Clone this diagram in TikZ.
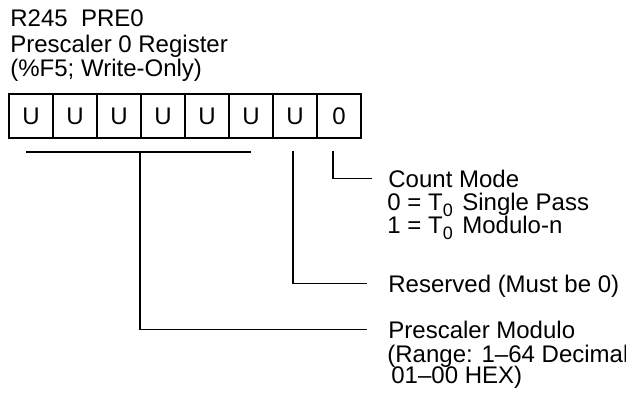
\documentclass[tikz,border=0pt]{standalone}
\usepackage{fontspec}
\setmainfont{Liberation Sans}
\newcommand{\tsub}[1]{\raisebox{-0.55ex}{\fontsize{9}{9}\selectfont #1}}
\begin{document}
\begin{tikzpicture}[x=0.5pt,y=-0.5pt,
  cell/.style={draw,line width=0.9pt,minimum size=22pt,inner sep=0pt,font=\fontsize{12}{13}\selectfont},
  lbl/.style={anchor=base west,inner sep=0pt,text height=8.6pt,text depth=0pt,font=\fontsize{12}{13}\selectfont},
  conn/.style={line width=0.6pt}]
\useasboundingbox (0,0) rectangle (626,397);
% register name
\node[lbl] (name) at (10,26) {R245\ \ PRE0};
\node[lbl] (desc) at (10,52) {Prescaler 0 Register};
\node[lbl] (addr) at (10,76) {(\%F5; Write-Only)};
% bit cells
\foreach \i/\v in {7/U,6/U,5/U,4/U,3/U,2/U,1/U,0/0}
  \node[cell] (b\i) at ({31+44*(7-\i)},116) {\v};
% field labels
\node[lbl] (mode) at (388,187) {Count Mode};
\node[lbl] (modea) at (387,210) {0 = T\tsub{0}\hspace{0.4em}Single Pass};
\node[lbl] (modeb) at (387,233) {1 = T\tsub{0}\hspace{0.4em}Modulo-n};
\node[lbl] (res) at (388,292) {Reserved (Must be 0)};
\node[lbl] (presc) at (388,338) {Prescaler Modulo};
\node[lbl] (range) at (387,362) {(Range: 1--64 Decimal};
\node[lbl] (hex) at (391,383) {01--00 HEX)};
% connectors
\coordinate (bl) at (26,152);
\coordinate (br) at (251,152);
\coordinate (bm) at (140,152);
\draw[conn] (bl) -- (br);
\draw[conn] (bm) |- ([xshift=-10.5pt]presc.west);
\draw[conn] ([xshift=-1pt,yshift=-6pt]b1.south) |- ([xshift=-10.5pt]res.west);
\draw[conn] ([xshift=-3pt,yshift=-6pt]b0.south) |- ([xshift=-8pt]mode.west);
\end{tikzpicture}
\end{document}
